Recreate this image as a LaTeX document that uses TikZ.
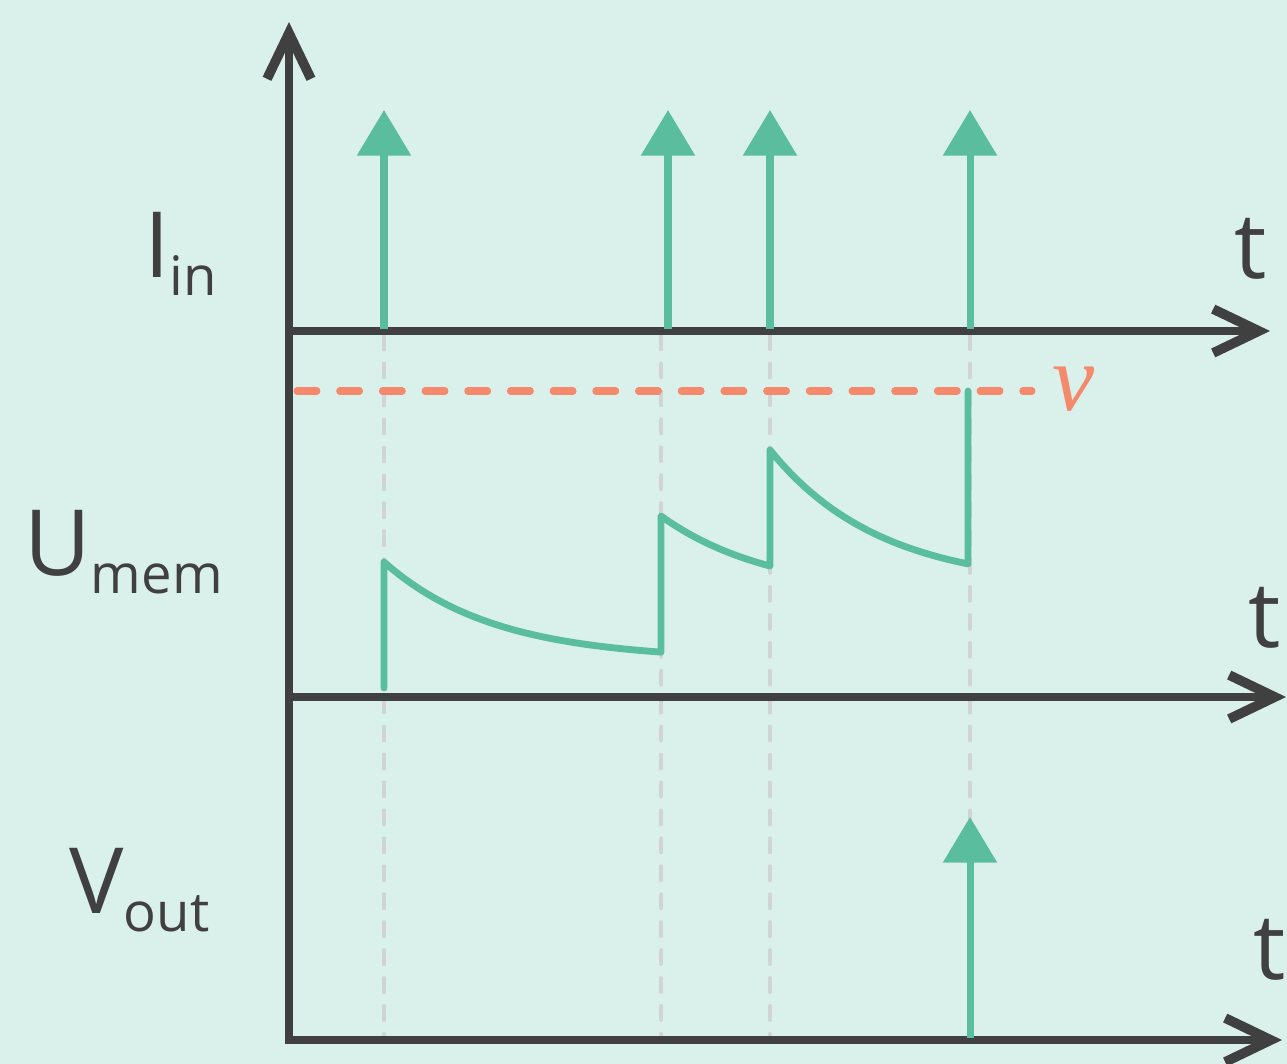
\documentclass[tikz,border=0pt]{standalone}
\usepackage{fontspec}
\setmainfont{Open Sans}
\newfontfamily\greekfont{Liberation Serif}
\usetikzlibrary{arrows.meta}

\definecolor{bgteal}{HTML}{DAF0EB}
\definecolor{spikegreen}{HTML}{5ABE9E}
\definecolor{axisgray}{HTML}{404040}
\definecolor{threshorange}{HTML}{F4896B}
\definecolor{guidegray}{HTML}{D0D4D4}

% big letter with lowered subscript
\newcommand{\siglabel}[2]{\fontsize{52}{52}\selectfont #1\raisebox{-10.5pt}{\fontsize{31}{31}\selectfont #2}}

\tikzset{
  axis/.style={line width=4pt,draw=axisgray,
    -{Straight Barb[length=26pt,width=25pt,line width=5.5pt]}},
  spike/.style={line width=4pt,draw=spikegreen,fill=spikegreen,
    -{Triangle[length=26pt,width=30pt]}},
  guide/.style={line width=2.8pt,draw=guidegray,line cap=round,
    dash pattern=on 7.4pt off 8.5pt},
  thresh/.style={line width=4pt,draw=threshorange,line cap=round,
    dash pattern=on 11.3pt off 13pt},
  umem/.style={line width=3.9pt,draw=spikegreen,line cap=round,line join=round},
  lbl/.style={text=axisgray,inner sep=0pt,anchor=base west},
}

\begin{document}
\begin{tikzpicture}[x=0.02cm,y=-0.02cm]
  \fill[bgteal] (0,0) rectangle (1287,1064);
  \useasboundingbox (0,0) rectangle (1287,1064);

  % guides at the spike times
  \foreach \x in {384,661,770,970}
    \draw[guide] (\x,336) -- (\x,1036);

  % threshold
  \draw[thresh] (297,391) -- (1032,391);
  \node[lbl,text=threshorange] (nu) at (1052,410) {\greekfont\itshape\fontsize{54}{54}\selectfont ν};

  % membrane potential
  \draw[umem] (384,688) -- (384,562)
    -- plot[domain=384:661,samples=40] (\x,{660-98*exp(-(\x-384)/110)})
    -- (661,516)
    -- plot[domain=661:770,samples=20] (\x,{595.6-79.6*exp(-(\x-661)/110)})
    -- (770,450)
    -- plot[domain=770:968,samples=30] (\x,{586.5-136.5*exp(-(\x-770)/110)})
    -- (968,391);

  % axes
  \coordinate (O1) at (289,331);
  \coordinate (O2) at (289,697);
  \coordinate (O3) at (289,1040);
  \draw[axis] (O3) -- (289,22);
  \draw[axis] ([xshift=-2pt]O1) -- (1270,331);
  \draw[axis] ([xshift=-2pt]O2) -- (1286,697);
  \draw[axis] ([xshift=-2pt]O3) -- (1282,1040);

  % input and output spikes
  \foreach \x in {384,668,770,970}
    \draw[spike] (\x,329) -- (\x,110);
  \draw[spike] (970,1038) -- (970,817);

  % labels
  \node[lbl] (Iin) at (144,277) {\siglabel{I}{in}};
  \node[lbl] (Umem) at (24,575) {\siglabel{U}{mem}};
  \node[lbl] (Vout) at (69,913) {\siglabel{V}{out}};
  \node[lbl] (t1) at (1234,278) {\fontsize{52}{52}\selectfont t};
  \node[lbl] (t2) at (1248,647) {\fontsize{52}{52}\selectfont t};
  \node[lbl] (t3) at (1253,979) {\fontsize{52}{52}\selectfont t};
\end{tikzpicture}
\end{document}
